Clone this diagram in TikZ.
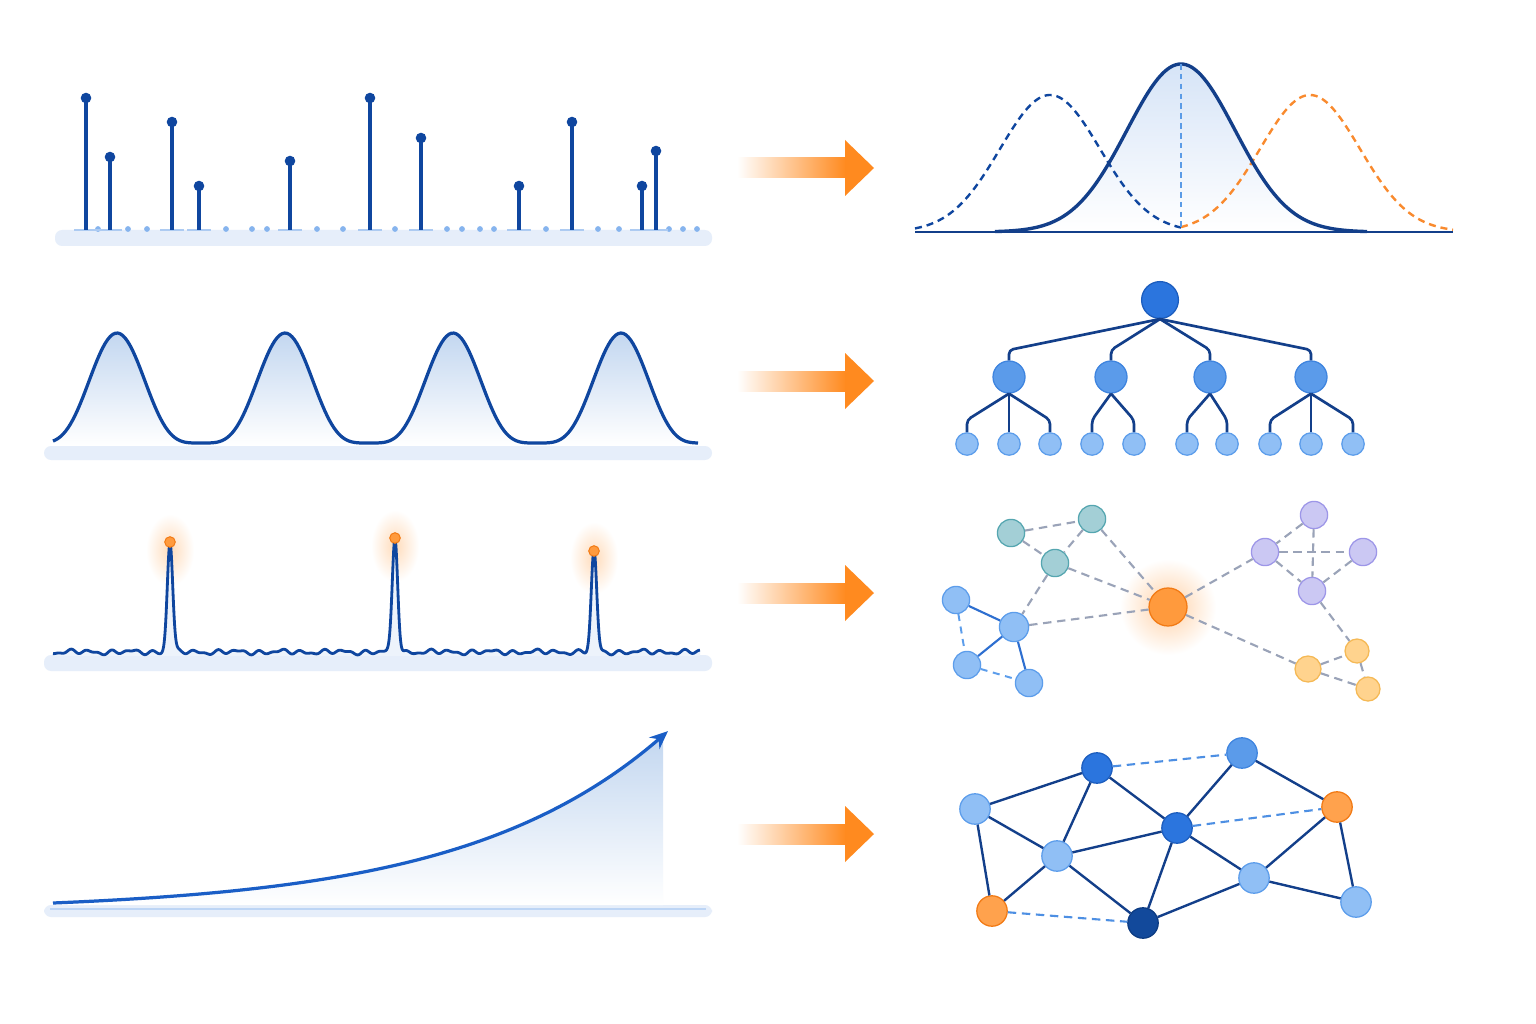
\documentclass[tikz,border=0pt]{standalone}
\usepackage{tikz}
\usetikzlibrary{arrows.meta}

\definecolor{navy}{HTML}{0F469F}
\definecolor{treenavy}{HTML}{133F8A}
\definecolor{dotblue}{HTML}{86B4EE}
\definecolor{tickblue}{HTML}{ADCBF2}
\definecolor{barblue}{HTML}{E6EEFA}
\definecolor{wavefill}{HTML}{C3D7F0}
\definecolor{gaussfill}{HTML}{D6E4F7}
\definecolor{arrorange}{HTML}{FF8A1F}
\definecolor{dashorange}{HTML}{F98A2E}
\definecolor{peakblue}{HTML}{5B9BE6}
\definecolor{hubfill}{HTML}{FF9A3D}
\definecolor{hubline}{HTML}{F27A14}
\definecolor{tealfill}{HTML}{A3CFD6}
\definecolor{tealline}{HTML}{55A6B0}
\definecolor{lightfill}{HTML}{90BFF5}
\definecolor{lightline}{HTML}{5C9DEB}
\definecolor{midfill}{HTML}{5B9BEA}
\definecolor{midline}{HTML}{3E84DF}
\definecolor{strongfill}{HTML}{2B75DE}
\definecolor{strongline}{HTML}{1C5DBE}
\definecolor{darkfill}{HTML}{12499B}
\definecolor{darkline}{HTML}{0C3B82}
\definecolor{violetfill}{HTML}{CBC8F3}
\definecolor{violetline}{HTML}{9D96E8}
\definecolor{amberfill}{HTML}{FFD38E}
\definecolor{amberline}{HTML}{F5B955}
\definecolor{meshorange}{HTML}{FFA24D}
\definecolor{linkgray}{HTML}{9AA3B8}
\definecolor{linkblue}{HTML}{2E6FD0}
\definecolor{dashblue}{HTML}{4D8FE3}
\definecolor{growblue}{HTML}{1A5EC6}

\begin{document}
\begin{tikzpicture}[x=0.025cm, y=-0.025cm,
  declare function={
    wv(\t)=(1+cos(2.142857*(\t-117)))/2;
    spk(\t,\c)=exp(-(min(abs(\t-\c),14)/3.8)*(min(abs(\t-\c),14)/3.8));
    noise(\t)=1.4*sin(17*(\t-350))+1.1*sin(27*(\t-370)+40)+0.9*sin(7*(\t-350)+15);
    grow(\t)=903-8.3*(exp(0.005*(\t-53))-1);
    bell(\t,\m,\s)=exp(-0.5*((\t-\m)/\s)*((\t-\m)/\s));
  },
  basebar/.style={fill=barblue, rounded corners=5pt},
  stem/.style={navy, line width=2.2pt},
  stemtick/.style={tickblue, line width=0.9pt},
  waveline/.style={navy, line width=2.3pt, line join=round},
  orb/.style={circle, draw, line width=0.9pt, inner sep=0pt},
  treeroot/.style={orb, fill=strongfill, draw=strongline, minimum size=0.92cm},
  treemid/.style={orb, fill=midfill, draw=midline, minimum size=0.8cm},
  treeleaf/.style={orb, fill=lightfill, draw=lightline, minimum size=0.56cm},
  treeedge/.style={treenavy, line width=1.9pt, rounded corners=3pt},
  tealnode/.style={orb, fill=tealfill, draw=tealline, minimum size=0.68cm},
  bluenode/.style={orb, fill=lightfill, draw=lightline, minimum size=0.68cm},
  hubnode/.style={orb, fill=hubfill, draw=hubline, minimum size=0.95cm},
  violetnode/.style={orb, fill=violetfill, draw=violetline, minimum size=0.68cm},
  ambernode/.style={orb, fill=amberfill, draw=amberline, minimum size=0.6cm},
  graylink/.style={linkgray, line width=1.5pt, dash pattern=on 6pt off 4pt},
  bluelink/.style={linkblue, line width=1.5pt},
  bluedash/.style={lightline, line width=1.4pt, dash pattern=on 5pt off 4pt},
  meshnode/.style={orb, minimum size=0.76cm},
  meshpale/.style={meshnode, fill=lightfill, draw=lightline},
  meshmid/.style={meshnode, fill=midfill, draw=midline},
  meshdeep/.style={meshnode, fill=strongfill, draw=strongline},
  meshdark/.style={meshnode, fill=darkfill, draw=darkline},
  meshwarm/.style={meshnode, fill=meshorange, draw=hubline},
  meshedge/.style={treenavy, line width=1.7pt},
  meshdash/.style={dashblue, line width=1.5pt, dash pattern=on 6pt off 4pt}
]
\fill[white] (0,0) rectangle (1536,1024);

% left column
\fill[basebar] (55,230) rectangle (712,246);
\foreach \dx in {98,128,147,226,252,267,317,343,395,447,462,480,494,546,598,619,669,683,697}
  \fill[dotblue] (\dx,229) circle[radius=2.9];
\foreach \sx/\sy in {86/98,110/157,172/122,199/186,290/161,370/98,421/138,519/186,572/122,642/186,656/151}{
  \draw[stemtick] (\sx-12,230) -- (\sx+12,230);
  \draw[stem] (\sx,230) -- (\sx,\sy);
  \fill[navy] (\sx,\sy) circle[radius=5.3];
}

\fill[basebar] (44,446) rectangle (712,460);
\shade[top color=wavefill, bottom color=white] (53,445) -- plot[domain=53:698, samples=260] (\x,{443-110*wv(\x)*wv(\x)}) -- (698,445) -- cycle;
\draw[waveline] plot[domain=53:698, samples=260] (\x,{443-110*wv(\x)*wv(\x)});

\fill[basebar] (44,655) rectangle (712,671);
\foreach \gx/\gy in {170/550,395/546,594/558}
  \shade[inner color=hubfill!35, outer color=white] (\gx,\gy) ellipse[x radius=24, y radius=36];
\fill[barblue!70] (53,656) -- plot[domain=53:700, samples=1300] (\x,{652+noise(\x)-110*spk(\x,170)-114*spk(\x,395)-101*spk(\x,594)}) -- (700,656) -- cycle;
\draw[waveline, line width=2pt] plot[domain=53:700, samples=1300] (\x,{652+noise(\x)-110*spk(\x,170)-114*spk(\x,395)-101*spk(\x,594)});
\foreach \gx/\gy in {170/542,395/538,594/551}
  \filldraw[fill=hubfill, draw=hubline, line width=0.7pt] (\gx,\gy) circle[radius=5.3];

\fill[basebar] (44,905) rectangle (712,917);
\draw[tickblue!80, line width=0.8pt] (50,909) -- (706,909);
\shade[top color=wavefill, bottom color=white] (53,905) -- plot[domain=53:663, samples=120] (\x,{grow(\x)}) -- (663,905) -- cycle;
\draw[growblue, line width=2.3pt, -{Stealth[length=13pt, width=11pt]}] plot[domain=53:668, samples=120] (\x,{grow(\x)});

% arrows
\foreach \ay in {168,381,593,834}{
  \shade[left color=white, right color=arrorange] (737,\ay-10) rectangle (846,\ay+10);
  \fill[arrorange] (845,\ay-28) -- (874,\ay) -- (845,\ay+28) -- cycle;
}

% bell curves
\shade[top color=gaussfill, bottom color=white] plot[domain=995:1367, samples=120] (\x,{232-168*bell(\x,1181,54)}) -- cycle;
\draw[navy, line width=1.7pt, dash pattern=on 5pt off 3.5pt] plot[domain=915:1181, samples=100] (\x,{232-137*bell(\x,1050,50)});
\draw[dashorange, line width=1.7pt, dash pattern=on 5pt off 3.5pt] plot[domain=1181:1453, samples=100] (\x,{232-137*bell(\x,1310,50)});
\draw[treenavy, line width=2.4pt] plot[domain=995:1367, samples=120] (\x,{232-168*bell(\x,1181,54)});
\draw[peakblue, line width=1.1pt, dash pattern=on 4pt off 3pt] (1181,64) -- (1181,232);
\draw[treenavy, line width=1.9pt] (915,232) -- (1453,232);

% tree
\node[treeroot] (root) at (1160,300) {};
\foreach \m/\mx in {m1/1009,m2/1111,m3/1210,m4/1311}
  \node[treemid] (\m) at (\mx,377) {};
\foreach \l/\lx in {l1/967,l2/1009,l3/1050,l4/1092,l5/1134,l6/1187,l7/1227,l8/1270,l9/1311,l10/1353}
  \node[treeleaf] (\l) at (\lx,444) {};
\foreach \m/\mx in {m1/1009,m2/1111,m3/1210,m4/1311}
  \draw[treeedge] (root.south) -- (\mx,350) -- (\m.north);
\foreach \m/\l/\lx in {m1/l1/967,m1/l3/1050,m2/l4/1092,m2/l5/1134,m3/l6/1187,m3/l7/1227,m4/l8/1270,m4/l10/1353}
  \draw[treeedge] (\m.south) -- (\lx,420) -- (\l.north);
\draw[treeedge] (m1) -- (l2);
\draw[treeedge] (m4) -- (l9);

% clusters
\shade[inner color=hubfill!45, outer color=white] (1168,607) circle[radius=48];
\node[tealnode] (t1) at (1011,533) {};
\node[tealnode] (t2) at (1092,519) {};
\node[tealnode] (t3) at (1055,563) {};
\node[bluenode] (b1) at (956,600) {};
\node[bluenode, minimum size=0.73cm] (b2) at (1014,627) {};
\node[bluenode] (b3) at (967,665) {};
\node[bluenode] (b4) at (1029,683) {};
\node[hubnode] (hub) at (1168,607) {};
\node[violetnode] (p1) at (1314,515) {};
\node[violetnode] (p2) at (1265,552) {};
\node[violetnode] (p3) at (1363,552) {};
\node[violetnode] (p4) at (1312,591) {};
\node[ambernode] (y1) at (1357,651) {};
\node[ambernode, minimum size=0.65cm] (y2) at (1308,669) {};
\node[ambernode] (y3) at (1368,689) {};
\foreach \a/\b in {t1/t2,t1/t3,t2/t3,t2/hub,t3/hub,t3/b2,b2/hub,hub/p2,p1/p2,p1/p4,p2/p3,p2/p4,p3/p4,p4/y1,hub/y2,y2/y1,y2/y3,y1/y3}
  \draw[graylink] (\a) -- (\b);
\foreach \a/\b in {b1/b2,b2/b3,b2/b4}
  \draw[bluelink] (\a) -- (\b);
\foreach \a/\b in {b1/b3,b3/b4}
  \draw[bluedash] (\a) -- (\b);

% mesh
\node[meshpale] (k1) at (975,809) {};
\node[meshdeep] (k2) at (1097,768) {};
\node[meshmid] (k3) at (1242,753) {};
\node[meshdeep] (k4) at (1177,828) {};
\node[meshwarm] (k5) at (1337,807) {};
\node[meshpale] (k6) at (1057,856) {};
\node[meshpale] (k7) at (1254,878) {};
\node[meshwarm] (k8) at (992,911) {};
\node[meshdark] (k9) at (1143,923) {};
\node[meshpale] (k10) at (1356,902) {};
\foreach \a/\b in {k1/k2,k1/k6,k1/k8,k2/k6,k2/k4,k6/k4,k6/k8,k6/k9,k4/k9,k4/k3,k4/k7,k3/k5,k5/k7,k5/k10,k7/k10,k7/k9}
  \draw[meshedge] (\a) -- (\b);
\foreach \a/\b in {k2/k3,k4/k5,k8/k9}
  \draw[meshdash] (\a) -- (\b);
\end{tikzpicture}
\end{document}
